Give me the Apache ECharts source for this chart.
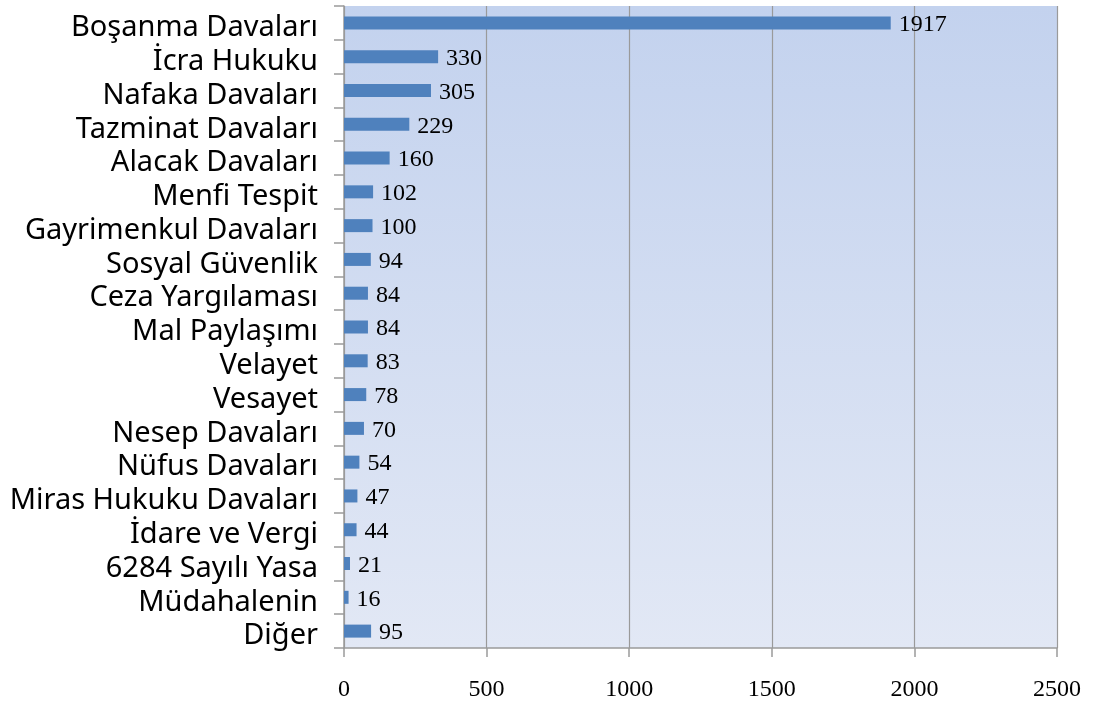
<!DOCTYPE html>
<html><head><meta charset="utf-8">
<script src="https://cdn.jsdelivr.net/npm/echarts@6/dist/echarts.min.js"></script>
<style>html,body{margin:0;padding:0;background:#fff}#c{width:1093px;height:702px}</style>
</head><body><div id="c"></div>
<script>
const categories = ["Boşanma Davaları","İcra Hukuku","Nafaka Davaları","Tazminat Davaları","Alacak Davaları","Menfi Tespit","Gayrimenkul Davaları","Sosyal Güvenlik","Ceza Yargılaması","Mal Paylaşımı","Velayet","Vesayet","Nesep Davaları","Nüfus Davaları","Miras Hukuku Davaları","İdare ve Vergi","6284 Sayılı Yasa","Müdahalenin","Diğer"];
const values = [1917,330,305,229,160,102,100,94,84,84,83,78,70,54,47,44,21,16,95];
const xTicks = [0,500,1000,1500,2000,2500];

const chart = echarts.init(document.getElementById('c'));
chart.setOption({
  animation:false,
  grid:{left:344,right:36,top:6,bottom:54,containLabel:false,show:true,borderWidth:0,
    backgroundColor:new echarts.graphic.LinearGradient(0,0,0,1,[{offset:0,color:'#c3d2ee'},{offset:1,color:'#e2e8f5'}])},
  xAxis:{type:'value',min:0,max:2500,interval:500,
    axisLine:{show:true,lineStyle:{color:'#9a9a9a',width:1.5}},
    axisTick:{show:true,length:9,lineStyle:{color:'#9a9a9a',width:1.5}},
    splitLine:{show:true,lineStyle:{color:'#9a9a9a',width:1.2}},
    axisLabel:{margin:30,color:'#000',fontFamily:'Liberation Serif',fontSize:24,
      formatter:v=>xTicks.includes(v)?String(v):''}},
  yAxis:{type:'category',data:categories,inverse:true,
    axisLine:{show:true,lineStyle:{color:'#9a9a9a',width:1.5}},
    axisTick:{show:true,length:10,interval:0,lineStyle:{color:'#9a9a9a',width:1.5}},
    axisLabel:{margin:26,interval:0,hideOverlap:false,color:'#000',fontFamily:'Noto Sans',fontSize:29,
      formatter:v=>'{a|'+v+'}',
      rich:{a:{fontFamily:'Noto Sans',fontSize:29,color:'#000',padding:[10,0,0,0]}}}},
  series:[{type:'bar',data:values,barWidth:13,itemStyle:{color:'#4f81bd'},
    label:{show:true,position:'right',distance:8,offset:[0,2],color:'#000',fontFamily:'Liberation Serif',fontSize:24}}]
});
</script></body></html>
